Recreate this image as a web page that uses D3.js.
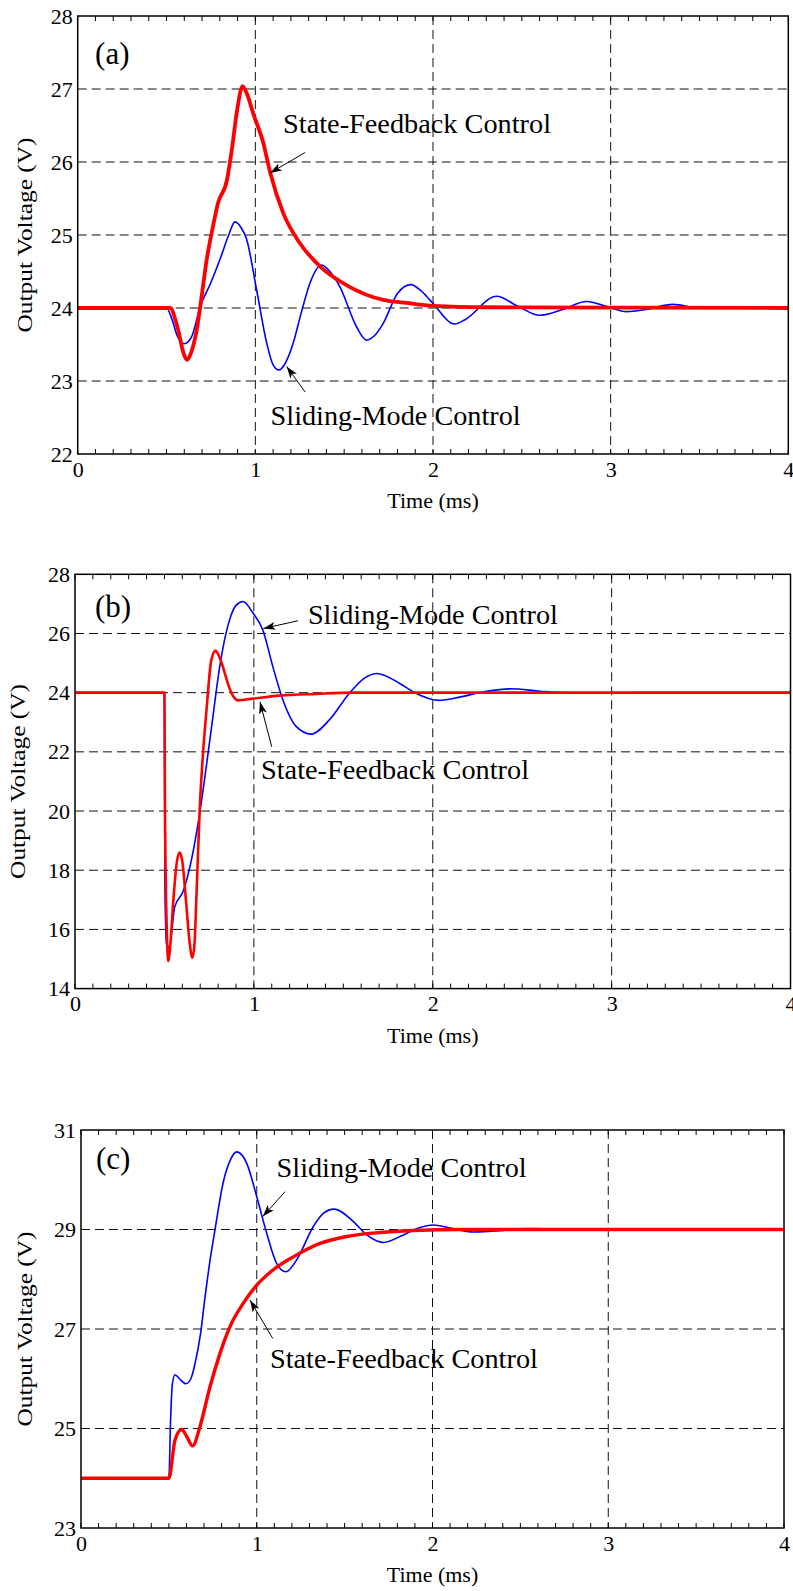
<!DOCTYPE html>
<html>
<head>
<meta charset="utf-8">
<script src="https://cdn.jsdelivr.net/npm/d3@7"></script>
<style>
  body { margin: 0; background: #fff; }
  svg text { font-family: "Liberation Serif", "Times New Roman", serif; fill: #000; }
</style>
</head>
<body>
<script>
// time axis (ms), shared by all three panels
const xTicks = [0, 1, 2, 3, 4];
const yTicksA = [22, 23, 24, 25, 26, 27, 28];
const yTicksB = [14, 16, 18, 20, 22, 24, 26, 28];
const yTicksC = [23, 25, 27, 29, 31];

// (a) [time ms, volts]
const smcA = [[0,24.0],[0.50,24.0],[0.53,23.85],[0.56,23.62],[0.60,23.51],[0.64,23.6],[0.69,24.02],[0.75,24.35],
  [0.80,24.66],[0.85,25.0],[0.885,25.18],[0.92,25.1],[0.95,24.95],[1.007,24.25],[1.064,23.52],[1.10,23.22],
  [1.133,23.15],[1.17,23.25],[1.213,23.52],[1.26,23.95],[1.307,24.34],[1.373,24.59],[1.42,24.5],[1.476,24.29],
  [1.57,23.74],[1.626,23.56],[1.67,23.62],[1.72,23.79],[1.80,24.2],[1.876,24.32],[1.93,24.24],[1.99,24.09],
  [2.123,23.78],[2.18,23.84],[2.358,24.16],[2.48,24.02],[2.60,23.9],[2.73,23.98],[2.864,24.09],[2.98,24.02],
  [3.09,23.95],[3.2,23.98],[3.35,24.05],[3.5,24.0],[4.0,24.0]];
const sfcA = [[0,24.0],[0.52,24.0],[0.56,23.75],[0.60,23.35],[0.617,23.29],[0.64,23.4],[0.67,23.7],[0.70,24.2],
  [0.726,24.66],[0.76,25.1],[0.79,25.44],[0.84,25.75],[0.867,26.16],[0.90,26.75],[0.928,27.04],[0.95,26.95],
  [0.99,26.65],[1.045,26.26],[1.082,25.87],[1.157,25.3],[1.25,24.89],[1.364,24.57],[1.53,24.29],[1.72,24.11],
  [1.85,24.07],[2.0,24.03],[2.3,24.01],[4.0,24.0]];

// (b)
const smcB = [[0,24.0],[0.50,24.0],[0.503,17.3],[0.512,15.5],[0.526,15.4],[0.558,16.77],[0.604,17.28],[0.651,18.35],
  [0.697,19.92],[0.734,21.5],[0.771,23.19],[0.809,24.88],[0.864,26.46],[0.90,26.95],[0.939,27.08],[0.995,26.69],
  [1.05,26.12],[1.106,24.88],[1.162,23.76],[1.236,22.86],[1.32,22.6],[1.422,23.08],[1.534,23.98],[1.62,24.5],
  [1.689,24.65],[1.813,24.32],[1.90,24.0],[2.035,23.74],[2.15,23.85],[2.30,24.05],[2.44,24.13],[2.60,24.05],
  [2.83,23.98],[3.2,24.0],[4.0,24.0]];
const sfcB = [[0,24.0],[0.50,24.0],[0.503,20.0],[0.515,15.6],[0.522,14.93],[0.532,15.4],[0.55,17.0],[0.57,18.3],
  [0.586,18.6],[0.60,18.3],[0.62,17.0],[0.64,15.6],[0.656,15.04],[0.668,15.5],[0.68,17.3],[0.697,20.04],
  [0.715,21.9],[0.735,23.4],[0.762,25.1],[0.786,25.42],[0.80,25.3],[0.827,24.87],[0.85,24.4],[0.874,24.0],
  [0.911,23.74],[0.995,23.8],[1.143,23.9],[1.35,23.96],[1.55,24.0],[4.0,24.0]];

// (c)
const smcC = [[0,24.0],[0.50,24.0],[0.51,25.2],[0.52,25.9],[0.535,26.08],[0.56,26.0],[0.597,25.9],[0.625,26.0],
  [0.649,26.31],[0.68,26.9],[0.706,27.65],[0.735,28.4],[0.762,28.99],[0.81,29.96],[0.85,30.4],[0.886,30.56],
  [0.915,30.5],[0.943,30.33],[1.0,29.66],[1.057,28.92],[1.113,28.32],[1.166,28.15],[1.227,28.39],[1.322,29.06],
  [1.38,29.33],[1.44,29.41],[1.55,29.16],[1.626,28.89],[1.72,28.74],[1.834,28.89],[1.92,29.03],[2.005,29.09],
  [2.1,29.03],[2.232,28.95],[2.35,28.97],[2.55,29.02],[2.8,29.0],[4.0,29.0]];
const sfcC = [[0,24.0],[0.50,24.0],[0.535,24.77],[0.573,24.98],[0.60,24.85],[0.635,24.65],[0.677,25.04],
  [0.734,25.84],[0.791,26.51],[0.848,27.05],[0.924,27.52],[1.0,27.88],[1.094,28.19],[1.208,28.45],[1.36,28.72],
  [1.512,28.86],[1.70,28.94],[1.89,28.98],[2.17,29.0],[4.0,29.0]];

// annotations: label position and arrow (tail -> head), in data units
const notesA = [
  { text: "State-Feedback Control", at: [1.156, 26.40], from: [1.28, 26.13], to: [1.083, 25.85] },
  { text: "Sliding-Mode Control", at: [1.086, 22.40], from: [1.28, 22.85], to: [1.176, 23.20] }
];
const notesB = [
  { text: "Sliding-Mode Control", at: [1.302, 26.32], from: [1.247, 26.43], to: [1.053, 26.17] },
  { text: "State-Feedback Control", at: [1.04, 21.08], from: [1.10, 22.17], to: [1.034, 23.69] }
];
const notesC = [
  { text: "Sliding-Mode Control", at: [1.113, 30.05], from: [1.161, 29.76], to: [1.034, 29.26] },
  { text: "State-Feedback Control", at: [1.075, 26.21], from: [1.091, 26.81], to: [0.962, 27.58] }
];

const panels = [
  { tag: "(a)", tagAt: [0.098, 27.34], left: 77.7, top: 16, right: 788.3, bottom: 454, yDomain: [22, 28], yTicks: yTicksA,
    smc: smcA, sfc: sfcA, sfcWidth: 3.8, notes: notesA, ylabX: 24 },
  { tag: "(b)", tagAt: [0.112, 26.56], left: 75, top: 574.3, right: 790.5, bottom: 988.6, yDomain: [14, 28], yTicks: yTicksB,
    smc: smcB, sfc: sfcB, sfcWidth: 2.6, notes: notesB, ylabX: 17 },
  { tag: "(c)", tagAt: [0.085, 30.22], left: 81, top: 1130, right: 784, bottom: 1528, yDomain: [23, 31], yTicks: yTicksC,
    smc: smcC, sfc: sfcC, sfcWidth: 3.4, notes: notesC, ylabX: 24 }
];

const svg = d3.select("body").append("svg")
    .attr("width", 793)
    .attr("height", 1591);

svg.append("defs").append("marker")
    .attr("id", "arrow")
    .attr("viewBox", "0 0 12 8")
    .attr("refX", 12).attr("refY", 4)
    .attr("markerWidth", 12).attr("markerHeight", 8)
    .attr("markerUnits", "userSpaceOnUse")
    .attr("orient", "auto")
  .append("path")
    .attr("d", "M0,0 L12,4 L0,8 L3,4 Z")
    .attr("fill", "#000");

panels.forEach(function(p) {
    let x = d3.scaleLinear().domain([0, 4]).range([p.left, p.right]);
    let y = d3.scaleLinear().domain(p.yDomain).range([p.bottom, p.top]);
    let g = svg.append("g");

    // dashed grid
    g.selectAll(".hgrid")
        .data(p.yTicks.slice(1, -1))
      .enter().append("line")
        .attr("x1", p.left).attr("x2", p.right)
        .attr("y1", d => y(d)).attr("y2", d => y(d))
        .attr("stroke", "#111").attr("stroke-width", 1)
        .attr("stroke-dasharray", "9,5");
    g.selectAll(".vgrid")
        .data(xTicks.slice(1, -1))
      .enter().append("line")
        .attr("x1", d => x(d)).attr("x2", d => x(d))
        .attr("y1", p.top).attr("y2", p.bottom)
        .attr("stroke", "#111").attr("stroke-width", 1)
        .attr("stroke-dasharray", "9,5");

    // minor ticks on top and bottom, pointing in
    let minor = x.ticks(40);
    g.selectAll(".mtb")
        .data(minor)
      .enter().append("line")
        .attr("x1", d => x(d)).attr("x2", d => x(d))
        .attr("y1", p.bottom).attr("y2", p.bottom - 5)
        .attr("stroke", "#000").attr("stroke-width", 1);
    g.selectAll(".mtt")
        .data(minor)
      .enter().append("line")
        .attr("x1", d => x(d)).attr("x2", d => x(d))
        .attr("y1", p.top).attr("y2", p.top + 5)
        .attr("stroke", "#000").attr("stroke-width", 1);

    // curves
    let line = d3.line()
        .x(d => x(d[0]))
        .y(d => y(d[1]))
        .curve(d3.curveMonotoneX);

    g.append("path")
        .datum(p.smc)
        .attr("d", line)
        .attr("fill", "none")
        .attr("stroke", "#0000ff")
        .attr("stroke-width", 1.6);

    g.append("path")
        .datum(p.sfc)
        .attr("d", line)
        .attr("fill", "none")
        .attr("stroke", "#ff0000")
        .attr("stroke-width", p.sfcWidth)
        .attr("stroke-linejoin", "round");

    // frame
    g.append("rect")
        .attr("x", p.left).attr("y", p.top)
        .attr("width", p.right - p.left).attr("height", p.bottom - p.top)
        .attr("fill", "none").attr("stroke", "#000").attr("stroke-width", 1.5);

    // axes labels
    let xAxis = g.append("g")
        .attr("transform", "translate(0," + p.bottom + ")")
        .call(d3.axisBottom(x).tickValues(xTicks).tickSize(0).tickPadding(7).tickFormat(d3.format("d")));
    xAxis.select(".domain").remove();
    xAxis.selectAll("text").style("font-size", "22px").style("font-family", "Liberation Serif");

    let yAxis = g.append("g")
        .attr("transform", "translate(" + p.left + ",0)")
        .call(d3.axisLeft(y).tickValues(p.yTicks).tickSize(0).tickPadding(5).tickFormat(d3.format("d")));
    yAxis.select(".domain").remove();
    yAxis.selectAll("text").style("font-size", "22px").style("font-family", "Liberation Serif");

    g.append("text")
        .attr("x", (p.left + p.right) / 2)
        .attr("y", p.bottom + 54)
        .attr("text-anchor", "middle")
        .style("font-size", "22px")
        .text("Time (ms)");

    g.append("text")
        .attr("transform", "translate(" + p.ylabX + "," + ((p.top + p.bottom) / 2) + ") rotate(-90)")
        .attr("text-anchor", "middle")
        .attr("dy", "0.35em")
        .attr("textLength", 195)
        .attr("lengthAdjust", "spacingAndGlyphs")
        .style("font-size", "22px")
        .text("Output Voltage (V)");

    g.append("text")
        .attr("x", x(p.tagAt[0]))
        .attr("y", y(p.tagAt[1]))
        .style("font-size", "31px")
        .text(p.tag);

    // annotations
    p.notes.forEach(function(n) {
        g.append("line")
            .attr("x1", x(n.from[0])).attr("y1", y(n.from[1]))
            .attr("x2", x(n.to[0])).attr("y2", y(n.to[1]))
            .attr("stroke", "#000").attr("stroke-width", 1)
            .attr("marker-end", "url(#arrow)");
        g.append("text")
            .attr("x", x(n.at[0]))
            .attr("y", y(n.at[1]))
            .attr("textLength", n.text.length > 20 ? 268 : 250)
            .attr("lengthAdjust", "spacingAndGlyphs")
            .style("font-size", "27px")
            .text(n.text);
    });
});
</script>
</body>
</html>
